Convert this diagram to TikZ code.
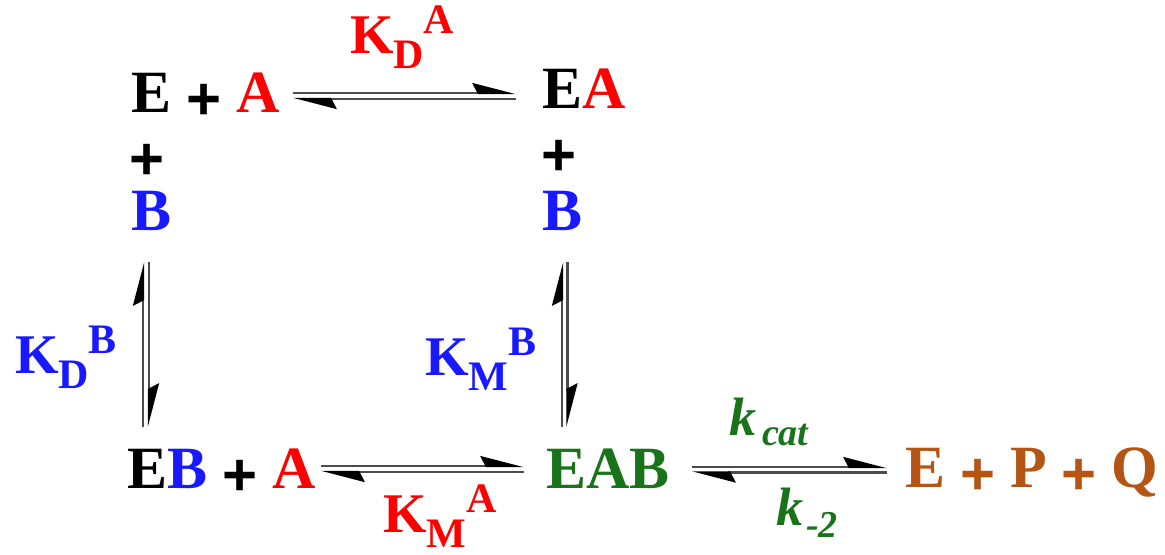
\documentclass[tikz,border=0pt]{standalone}
\usepackage{fontspec}
\setmainfont{Liberation Serif}
\newfontfamily\plusfam{Liberation Sans}
\usetikzlibrary{arrows.meta}
\definecolor{cRed}{RGB}{255,0,0}
\definecolor{cBlue}{RGB}{25,25,255}
\definecolor{cGreen}{RGB}{25,115,25}
\definecolor{cBrown}{RGB}{180,85,20}
\newcommand\szMain{\fontsize{30}{36}\selectfont\bfseries}
\newcommand\szLab{\fontsize{28}{34}\selectfont\bfseries}
\newcommand\szSub{\fontsize{21}{25}\selectfont\bfseries}
\newcommand\szKi{\fontsize{27}{30}\selectfont\bfseries\itshape}
\newcommand\szKsub{\fontsize{19}{22}\selectfont\bfseries\itshape}
\newcommand\Klab[2]{{\szLab K}\raisebox{-7.5pt}{\szSub #1}\raisebox{10pt}{\szSub #2}}
\newcommand\pls{\raisebox{-3.5pt}{\plusfam\bfseries +}}
\begin{document}
\begin{tikzpicture}[x=0.5pt,y=-0.5pt,
  txt/.style={inner sep=0pt, outer sep=0pt, anchor=base west, font=\szMain},
  lab/.style={inner sep=0pt, outer sep=0pt, anchor=base west},
  harp/.style={line width=1.2pt, draw=black!70, line cap=butt,
    -{Stealth[length=19.5pt, width=10pt, inset=2.5pt, harpoon, color=black]}}]
\useasboundingbox (0,0) rectangle (1165,554);
% species
\node[txt] (EpA) at (131,112) {E \pls{} \textcolor{cRed}{A}};
\node[txt, anchor=base, font=\szMain\plusfam] (p1) at (147.5,179) {+};
\node[txt] (B1) at (131,230) {\textcolor{cBlue}{B}};
\node[txt] (EA) at (542,108) {E\textcolor{cRed}{A}};
\node[txt, anchor=base, font=\szMain\plusfam] (p2) at (559,175) {+};
\node[txt] (B2) at (542,230) {\textcolor{cBlue}{B}};
\node[txt] (EBpA) at (127,488) {E\textcolor{cBlue}{B} \pls{} \textcolor{cRed}{A}};
\node[txt, text=cGreen] (EAB) at (546,488) {EAB};
\node[txt, text=cBrown] (prod) at (905,487) {E \pls{} P \pls{} Q};
% labels
\node[lab, text=cRed] (KDA) at (350,53) {\Klab{D}{A}};
\node[lab, text=cBlue] (KDB) at (15,373) {\Klab{D}{B}};
\node[lab, text=cBlue] (KMB) at (425,375) {\Klab{M}{B}};
\node[lab, text=cRed] (KMA) at (383,532) {\Klab{M}{A}};
\node[lab, text=cGreen] (kcat) at (729,435) {{\szKi k}\kern3pt\raisebox{-5pt}{\szKsub cat}};
\node[lab, text=cGreen] (km2) at (776,525) {{\szKi k}\kern1.5pt\raisebox{-6pt}{\szKsub -2}};
% arrow end points
\coordinate (a1) at (293,93);  \coordinate (a2) at (516,93);
\coordinate (a3) at (516,99);  \coordinate (a4) at (293,99);
\coordinate (b1) at (143,427); \coordinate (b2) at (143,262);
\coordinate (b3) at (149,262); \coordinate (b4) at (149,427);
\coordinate (c1) at (562,427); \coordinate (c2) at (562,262);
\coordinate (c3) at (567.5,262); \coordinate (c4) at (567.5,427);
\coordinate (d1) at (321,466); \coordinate (d2) at (524,466);
\coordinate (d3) at (524,472); \coordinate (d4) at (321,472);
\coordinate (e1) at (692,467); \coordinate (e2) at (887,467);
\coordinate (e3) at (887,472.5); \coordinate (e4) at (692,472.5);
\draw[harp] (a1) -- (a2);
\draw[harp] (a3) -- (a4);
\draw[harp] (b1) -- (b2);
\draw[harp] (b3) -- (b4);
\draw[harp] (c1) -- (c2);
\draw[harp] (c3) -- (c4);
\draw[harp] (d1) -- (d2);
\draw[harp] (d3) -- (d4);
\draw[harp] (e1) -- (e2);
\draw[harp] (e3) -- (e4);
\end{tikzpicture}
\end{document}
